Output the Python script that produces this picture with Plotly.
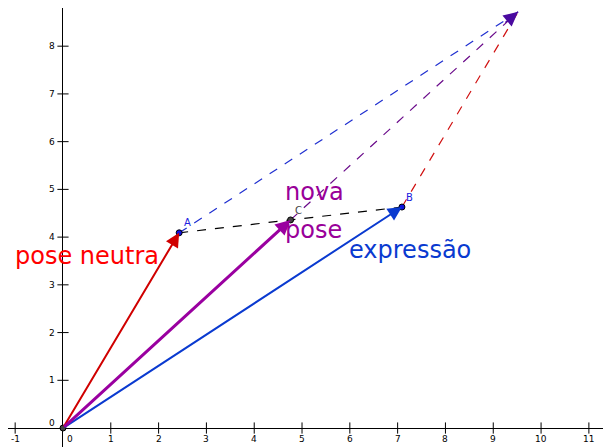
import plotly.graph_objects as go

O = (0.0, 0.0)
A = (2.43, 4.09)
B = (7.09, 4.63)
C = (4.76, 4.36)
T = (9.52, 8.72)
xticks = list(range(-1, 12))
yticks = list(range(0, 9))

fig = go.Figure()
def dash(p, q, color):
    fig.add_trace(go.Scatter(x=[p[0], q[0]], y=[p[1], q[1]], mode="lines", cliponaxis=False,
                             line=dict(color=color, width=1.2, dash="dash"), hoverinfo="skip"))
dash(A, B, "black")
dash(A, T, "#1f2fd0")
dash(C, T, "#6a0a8a")
dash(B, T, "#d01010")

fig.add_trace(go.Scatter(x=[t for t in xticks if t != 0], y=[0]*12, mode="markers", cliponaxis=True,
                         marker=dict(symbol="line-ns", size=8, line=dict(width=1, color="black")), hoverinfo="skip"))
fig.add_trace(go.Scatter(x=[0]*8, y=[t for t in yticks if t != 0], mode="markers", cliponaxis=True,
                         marker=dict(symbol="line-ew", size=8, line=dict(width=1, color="black")), hoverinfo="skip"))

ann = []
def arrow(p, q, color, w, size):
    ann.append(dict(x=q[0], y=q[1], ax=p[0], ay=p[1], xref="x", yref="y", axref="x", ayref="y",
                    showarrow=True, arrowhead=2, arrowsize=size, arrowwidth=w,
                    arrowcolor=color, text=""))
arrow(O, A, "#d00000", 2, 1.4)
arrow(O, B, "#0a3ad0", 2, 1.4)
arrow(O, C, "#9a00a0", 3, 1.0)
arrow((T[0] - 0.3, T[1] - 0.25), T, "#4a0aa0", 1.2, 2.4)

fig.add_trace(go.Scatter(x=[A[0], B[0]], y=[A[1], B[1]], mode="markers",
                         marker=dict(color="#1010e0", size=6, line=dict(color="black", width=1)), hoverinfo="skip"))
fig.add_trace(go.Scatter(x=[O[0], C[0]], y=[O[1], C[1]], mode="markers", cliponaxis=False,
                         marker=dict(color="#444444", size=6, line=dict(color="black", width=1)), hoverinfo="skip"))

for t in xticks:
    ann.append(dict(x=t + 0.15 if t == 0 else t, y=-0.08, text=str(t), showarrow=False, yanchor="top",
                    font=dict(size=9, color="black")))
for t in yticks:
    ann.append(dict(x=-0.12, y=t + (0.1 if t == 0 else 0), text=str(t), showarrow=False, xanchor="right",
                    font=dict(size=9, color="black")))

ann += [
    dict(x=A[0] + 0.05, y=A[1] + 0.05, text="A", showarrow=False, xanchor="left", yanchor="bottom", font=dict(size=10, color="#2020e0")),
    dict(x=B[0] + 0.05, y=B[1] + 0.05, text="B", showarrow=False, xanchor="left", yanchor="bottom", font=dict(size=10, color="#2020e0")),
    dict(x=C[0] + 0.05, y=C[1] + 0.05, text="C", showarrow=False, xanchor="left", yanchor="bottom", font=dict(size=10, color="#444")),
    dict(x=-1.05, y=3.6, text="pose neutra", showarrow=False, xanchor="left", font=dict(size=24, color="#ff0000")),
    dict(x=5.95, y=3.72, text="expressão", showarrow=False, xanchor="left", font=dict(size=24, color="#0a3ad0")),
    dict(x=4.6, y=4.95, text="nova", showarrow=False, xanchor="left", font=dict(size=24, color="#990099")),
    dict(x=4.6, y=4.15, text="pose", showarrow=False, xanchor="left", font=dict(size=24, color="#990099")),
]

fig.update_layout(width=611, height=447, margin=dict(l=0, r=0, t=0, b=0, pad=0, autoexpand=False),
                  plot_bgcolor="white", paper_bgcolor="white", showlegend=False,
                  font=dict(family="DejaVu Sans"), annotations=ann,
                  xaxis=dict(range=[-1.15, 11.63], showgrid=False, showticklabels=False, ticks="", automargin=False,
                             zeroline=True, zerolinecolor="black", zerolinewidth=1),
                  yaxis=dict(range=[-0.565, 8.8], showgrid=False, showticklabels=False, ticks="", automargin=False,
                             zeroline=True, zerolinecolor="black", zerolinewidth=1))
fig.write_html("out.html")
